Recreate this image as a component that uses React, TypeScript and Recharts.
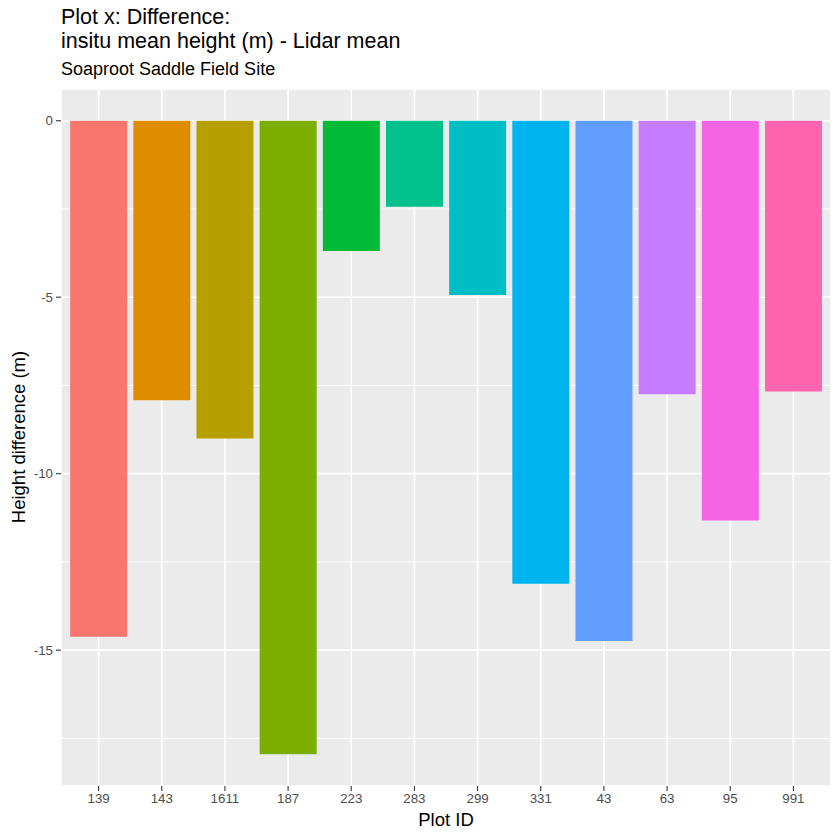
import React from "react";
import { BarChart, Bar, Cell, XAxis, YAxis, CartesianGrid } from "recharts";

const plotIds = ["139", "143", "1611", "187", "223", "283", "299", "331", "43", "63", "95", "991"];
const heightDiff = [-14.62, -7.92, -9.0, -17.95, -3.69, -2.44, -4.94, -13.12, -14.74, -7.75, -11.33, -7.67];
const barColors = [
  "#F8766D", "#DE8C00", "#B79F00", "#7CAE00", "#00BA38", "#00C08B",
  "#00BFC4", "#00B4F0", "#619CFF", "#C77CFF", "#F564E3", "#FF64B0",
];
const yDomain: [number, number] = [-18.85, 0.9];
const yTicks = [-15, -10, -5, 0];
const yMinorTicks = [-17.5, -12.5, -7.5, -2.5];

const data = plotIds.map((id, i) => ({ id, diff: heightDiff[i] }));

const font = "'Liberation Sans', Arial, sans-serif";

// minor gridlines: use the axis scale when the grid gets it, else map through the plot offset
const minorLines = ({ yAxis, offset }: any) => {
  if (yAxis && typeof yAxis.scale === "function") return yMinorTicks.map((v) => yAxis.scale(v));
  const [lo, hi] = yDomain;
  return yMinorTicks.map((v) => offset.top + ((hi - v) / (hi - lo)) * offset.height);
};

export default function App() {
  return (
    <div
      style={{
        position: "absolute",
        left: 0,
        top: 0,
        width: 840,
        height: 840,
        background: "#fff",
        fontFamily: font,
      }}
    >
      <div style={{ position: "absolute", left: 61, top: 5, fontSize: 21.5, lineHeight: "24.3px", color: "#000" }}>
        Plot x: Difference:
        <br />
        insitu mean height (m) - Lidar mean
      </div>
      <div style={{ position: "absolute", left: 61, top: 59, fontSize: 18, color: "#000" }}>
        Soaproot Saddle Field Site
      </div>
      <div
        style={{
          position: "absolute",
          left: 19,
          top: 437,
          transform: "translate(-50%, -50%) rotate(-90deg)",
          whiteSpace: "nowrap",
          fontSize: 18.5,
          color: "#000",
        }}
      >
        Height difference (m)
      </div>
      <div
        style={{
          position: "absolute",
          left: 446,
          top: 820,
          transform: "translate(-50%, -50%)",
          fontSize: 18.5,
          color: "#000",
        }}
      >
        Plot ID
      </div>
      <BarChart
        width={840}
        height={840}
        data={data}
        margin={{ top: 89, right: 9, bottom: 0, left: 0 }}
        barCategoryGap="5%"
      >
        <CartesianGrid fill="#EBEBEB" stroke="none" />
        <CartesianGrid
          stroke="#FFFFFF"
          strokeWidth={0.9}
          vertical={false}
          horizontalCoordinatesGenerator={minorLines}
        />
        <CartesianGrid stroke="#FFFFFF" strokeWidth={1.6} />
        <XAxis
          dataKey="id"
          height={54}
          padding={{ left: 6, right: 6 }}
          axisLine={false}
          tickLine={{ stroke: "#333333", strokeWidth: 1.1 }}
          tickSize={5}
          tickMargin={3}
          interval={0}
          tick={{ fill: "#4D4D4D", fontSize: 13.3, fontFamily: font }}
        />
        <YAxis
          width={61}
          domain={yDomain}
          ticks={yTicks}
          allowDataOverflow
          axisLine={false}
          tickLine={{ stroke: "#333333", strokeWidth: 1.1 }}
          tickSize={5}
          tickMargin={3}
          tick={{ fill: "#4D4D4D", fontSize: 13.3, fontFamily: font }}
        />
        <Bar dataKey="diff" isAnimationActive={false}>
          {data.map((d, i) => (
            <Cell key={d.id} fill={barColors[i]} />
          ))}
        </Bar>
      </BarChart>
    </div>
  );
}
